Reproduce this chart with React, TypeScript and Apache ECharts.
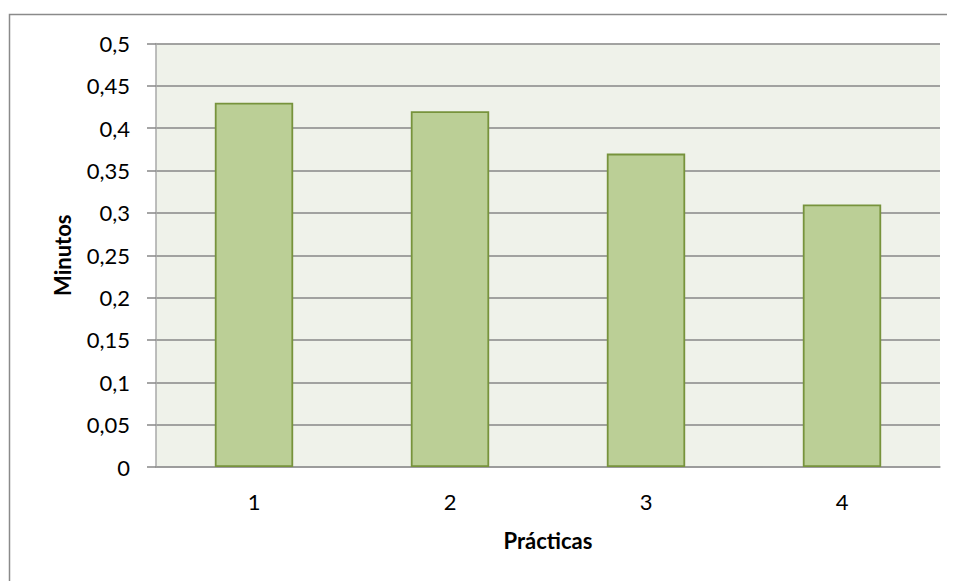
import React, { useEffect, useRef } from "react";
import * as echarts from "echarts";

const categories = ["1", "2", "3", "4"];
const values = [0.43, 0.42, 0.37, 0.31];
const yTicks = [0, 0.05, 0.1, 0.15, 0.2, 0.25, 0.3, 0.35, 0.4, 0.45, 0.5];

const FONT = "Lato, 'Open Sans', sans-serif";

export default function App() {
  const ref = useRef<HTMLDivElement>(null);
  useEffect(() => {
    if (!ref.current) return;
    const chart = echarts.init(ref.current, undefined, { renderer: "svg" });
    chart.setOption({
      animation: false,
      textStyle: { fontFamily: FONT },
      graphic: [
        {
          type: "rect",
          silent: true,
          z: -10,
          shape: { x: 1.5, y: 6.5, width: 1200, height: 1200 },
          style: { fill: "#ffffff", stroke: "#8a8a8a", lineWidth: 1.5 },
        },
      ],
      grid: {
        left: 148,
        top: 35.5,
        right: 15,
        bottom: 114,
        show: true,
        backgroundColor: "#EFF2EA",
        borderWidth: 0,
      },
      xAxis: {
        type: "category",
        data: categories,
        name: "Prácticas",
        nameLocation: "middle",
        nameGap: 62,
        nameTextStyle: { fontFamily: FONT, fontSize: 22, fontWeight: "bold", color: "#000" },
        axisLine: { show: true, lineStyle: { color: "#9a9a9a", width: 1.5 } },
        axisTick: { show: false },
        axisLabel: { fontFamily: FONT, fontSize: 22, color: "#000", margin: 23 },
        splitLine: { show: false },
      },
      yAxis: {
        type: "value",
        min: 0,
        max: 0.5,
        interval: 0.05,
        name: "Minutos",
        nameLocation: "middle",
        nameGap: 83,
        nameTextStyle: { fontFamily: FONT, fontSize: 22, fontWeight: "bold", color: "#000" },
        axisLine: { show: true, lineStyle: { color: "#a8a8a8", width: 1.5 } },
        axisTick: { show: true, length: 9, inside: false, lineStyle: { color: "#878787", width: 1.5 } },
        axisLabel: {
          fontFamily: FONT,
          fontSize: 22,
          color: "#000",
          margin: 26,
          formatter: (v: number) => {
            const t = yTicks.find((x) => Math.abs(x - v) < 1e-9);
            const n = t !== undefined ? t : v;
            return String(Math.round(n * 100) / 100).replace(".", ",");
          },
        },
        splitLine: { show: true, lineStyle: { color: "#878787", width: 1.5 } },
      },
      series: [
        {
          type: "bar",
          data: values,
          barWidth: "40%",
          itemStyle: { color: "#BBCF96", borderColor: "#77933C", borderWidth: 1.8 },
        },
      ],
    });
    return () => chart.dispose();
  }, []);
  return <div ref={ref} style={{ width: 947, height: 573 }} />;
}
